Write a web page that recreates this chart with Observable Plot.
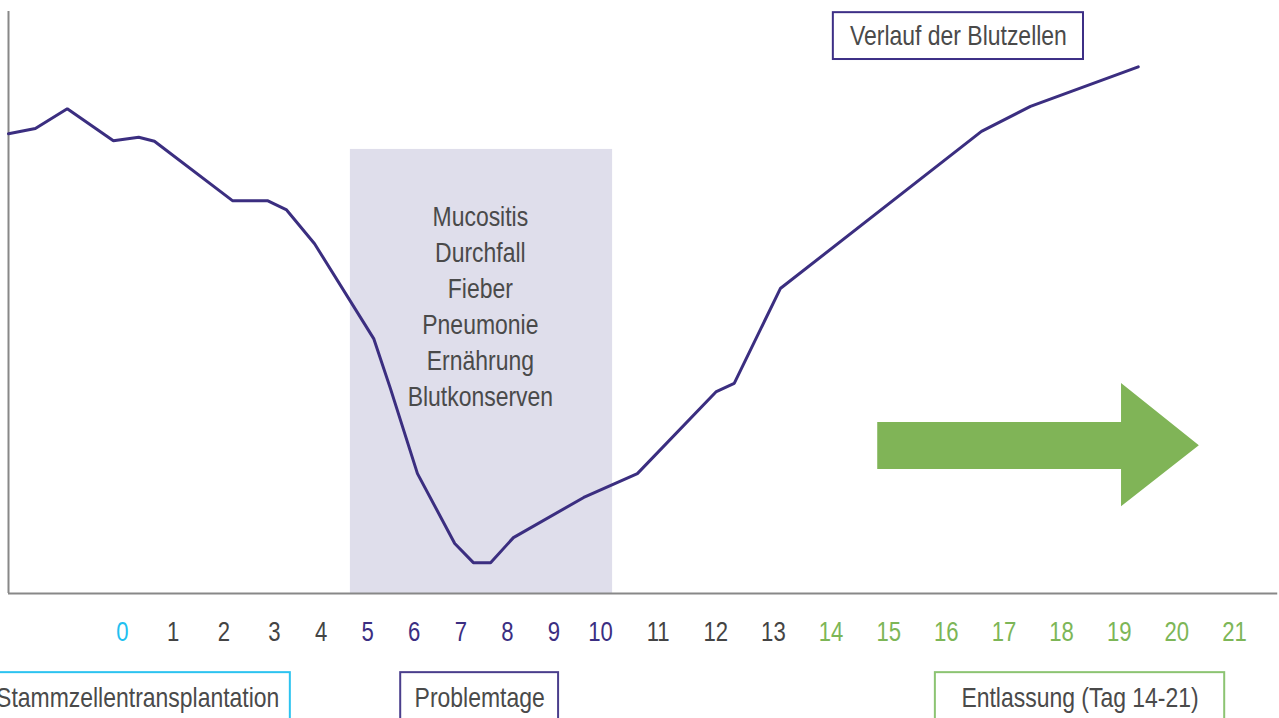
<!DOCTYPE html>
<html>
<head>
<meta charset="utf-8">
<script src="https://cdn.jsdelivr.net/npm/d3@7"></script>
<script src="https://cdn.jsdelivr.net/npm/@observablehq/plot@0.6"></script>
<style>
  html, body { margin: 0; padding: 0; background: #fff; overflow: hidden; }
  #chart svg { display: block; }
</style>
</head>
<body>
<div id="chart"></div>
<script>
// ---- data ----
const lineDays = [-2.25, -1.72, -1.09, -0.18, 0.32, 0.63, 2.17, 2.86, 3.26, 3.86, 5.13, 5.49, 6.07, 6.87, 7.27, 7.64, 8.13, 9.64, 10.64, 12.01, 12.32, 13.12, 16.61, 17.46, 19.33];
const bloodCells = [79.0, 79.9, 83.3, 77.8, 78.4, 77.7, 67.5, 67.5, 65.9, 60.1, 43.8, 35.2, 20.6, 8.6, 5.3, 5.3, 9.6, 16.5, 20.6, 34.7, 36.1, 52.4, 79.4, 83.7, 90.5];

const tickDays = [0,1,2,3,4,5,6,7,8,9,10,11,12,13,14,15,16,17,18,19,20,21];
const tickLabels = ["0","1","2","3","4","5","6","7","8","9","10","11","12","13","14","15","16","17","18","19","20","21"];
const tickGroup = ["tx","n","n","n","n","p","p","p","p","p","p","n","n","n","d","d","d","d","d","d","d","d"];

const symptoms = ["Mucositis", "Durchfall", "Fieber", "Pneumonie", "Ernährung", "Blutkonserven"];
const problemWindow = {from: 4.63, to: 10.21, level: 76.3};

const phaseLabels = ["Stammzellentransplantation", "Problemtage", "Entlassung (Tag 14-21)"];
const phaseFrom = [-2.74, 5.71, 15.81];
const phaseTo = [3.34, 9.10, 20.83];
const phaseGroup = ["tx", "p", "d"];

const seriesLabel = "Verlauf der Blutzellen";
const seriesBox = {from: 14.04, to: 18.38, low: 91.75, high: 99.8};

const arrowShape = {start: 14.81, neck: 19.04, tip: 20.39, shaftLow: 21.3, shaftHigh: 29.4, headLow: 14.9, headHigh: 36.1, mid: 25.4};

// ---- styles ----
const colors = {tx: "#22bff0", n: "#444444", p: "#3b2e82", d: "#7db657"};
const boxColors = {tx: "#2cc3f0", p: "#4a3e8c", d: "#8cc472"};
const font = "'Liberation Sans', Arial, sans-serif";
const textColor = "#4a4a4a";
const narrow = 0.82;

const line = lineDays.map((d, i) => ({day: d, v: bloodCells[i]}));
const ticks = tickDays.map((d, i) => ({day: d, label: tickLabels[i], g: tickGroup[i]}));
const phases = phaseLabels.map((t, i) => ({label: t, from: phaseFrom[i], to: phaseTo[i], g: phaseGroup[i], mid: (phaseFrom[i] + phaseTo[i]) / 2}));
const a = arrowShape;
const arrow = [
  {x: a.start, y1: a.shaftLow, y2: a.shaftHigh},
  {x: a.neck, y1: a.shaftLow, y2: a.shaftHigh},
  {x: a.neck, y1: a.headLow, y2: a.headHigh},
  {x: a.tip, y1: a.mid, y2: a.mid}
];

const xMin = -2.25, xMax = 21.75;

const chart = Plot.plot({
  width: 1279,
  height: 718,
  marginTop: 11,
  marginBottom: 125,
  marginLeft: 0,
  marginRight: 0,
  style: {fontFamily: font, background: "#fff"},
  x: {type: "linear", domain: [0, 3, 10, 21], range: [122, 274, 600, 1234], axis: null},
  y: {type: "linear", domain: [0, 100], axis: null},
  marks: [
    Plot.rect([problemWindow], {x1: "from", x2: "to", y1: () => 0, y2: "level", fill: "#dfdeeb"}),
    Plot.text([symptoms.join("\n")], {x: () => (problemWindow.from + problemWindow.to) / 2, y: () => 49.7, text: d => d, fontSize: 28, lineHeight: 1.29, lineAnchor: "middle", fill: textColor}),
    Plot.ruleY([0], {x1: () => xMin, x2: () => xMax, stroke: "#888", strokeWidth: 2}),
    Plot.ruleX([xMin], {y1: () => 0, y2: () => 100, stroke: "#888", strokeWidth: 2}),
    Plot.areaY(arrow, {x: "x", y1: "y1", y2: "y2", fill: "#80b457", curve: "linear"}),
    Plot.line(line, {x: "day", y: "v", stroke: "#3b2e80", strokeWidth: 3, strokeLinejoin: "miter"}),
    Plot.rect([seriesBox], {x1: "from", x2: "to", y1: "low", y2: "high", fill: "none", stroke: "#3d2f86", strokeWidth: 2}),
    Plot.text([seriesLabel], {x: () => (seriesBox.from + seriesBox.to) / 2, y: () => (seriesBox.low + seriesBox.high) / 2, text: d => d, fontSize: 28, fill: textColor}),
    Plot.text(ticks, {x: "day", y: () => -6.7, text: "label", fontSize: 27, fill: d => colors[d.g]}),
    Plot.rect(phases, {x1: "from", x2: "to", y1: () => -30, y2: () => -13.6, fill: "none", stroke: d => boxColors[d.g], strokeWidth: 2}),
    Plot.text(phases, {x: "mid", y: () => -17.9, text: "label", fontSize: 28, fill: textColor})
  ]
});
// condensed look: compress text horizontally around its anchor
chart.querySelectorAll("text").forEach(t => {
  const tr = t.getAttribute("transform") || "";
  t.setAttribute("transform", tr + ` scale(${narrow},1)`);
});
document.getElementById("chart").appendChild(chart);
</script>
</body>
</html>
